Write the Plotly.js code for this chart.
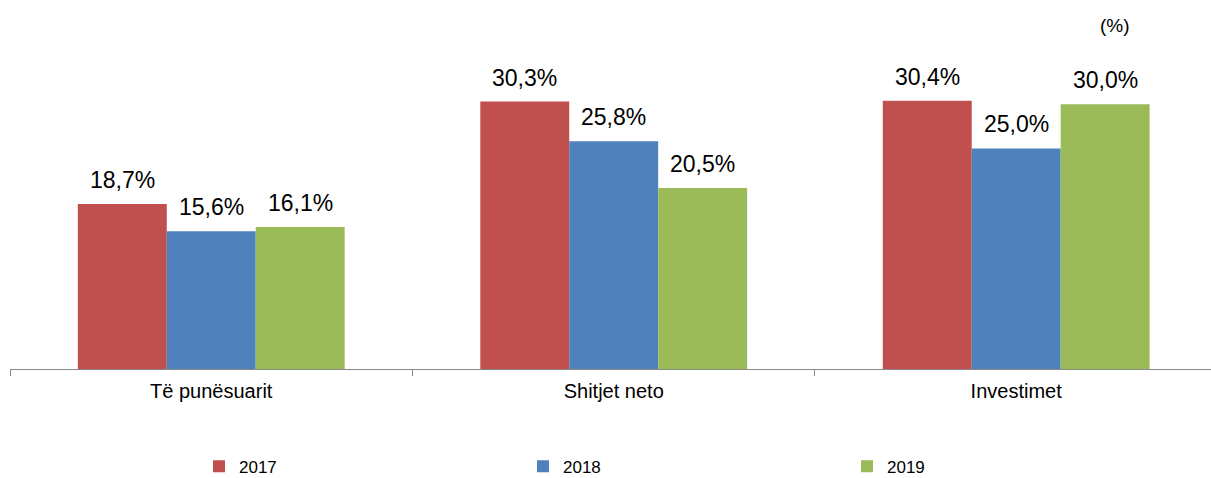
<!DOCTYPE html>
<html>
<head>
<meta charset="utf-8">
<script src="https://cdn.plot.ly/plotly-3.0.1.min.js"></script>
<style>
  html, body { margin: 0; padding: 0; background: #fff; }
  #chart { width: 1211px; height: 478px; }
</style>
</head>
<body>
<div id="chart"></div>
<script>
const categories = ["Të punësuarit", "Shitjet neto", "Investimet"];
const years = ["2017", "2018", "2019"];
const values2017 = [18.7, 30.3, 30.4];
const values2018 = [15.6, 25.8, 25.0];
const values2019 = [16.1, 20.5, 30.0];
const colors = ["#C0504D", "#4F81BD", "#9BBB59"];

const series = [values2017, values2018, values2019];
const FONT = "Liberation Sans, Arial, sans-serif";
const fmt = v => v.toFixed(1).replace(".", ",") + "%";

const bargap = 0.337;
const barW = (1 - bargap) / 3;

const traces = series.map((vals, k) => ({
  type: "bar",
  name: years[k],
  x: categories,
  y: vals,
  marker: { color: colors[k], line: { width: 0 } },
  hoverinfo: "skip"
}));

const annotations = [];
series.forEach((vals, k) => {
  vals.forEach((v, i) => {
    annotations.push({
      xref: "x", yref: "y",
      x: i + (k - 1) * barW,
      y: v,
      text: fmt(v),
      showarrow: false,
      yanchor: "middle",
      yshift: 24,
      font: { family: FONT, size: 23, color: "#000" }
    });
  });
});
annotations.push({
  xref: "paper", yref: "paper",
  x: (1115 - 10) / 1201, y: (369 - 25) / 353,
  xanchor: "center", yanchor: "middle",
  text: "(%)", showarrow: false,
  font: { family: FONT, size: 19, color: "#000" }
});

const layout = {
  width: 1211, height: 478,
  margin: { l: 10, r: 0, t: 16, b: 109, autoexpand: false },
  paper_bgcolor: "#fff", plot_bgcolor: "#fff",
  barmode: "group",
  bargap: bargap, bargroupgap: 0,
  font: { family: FONT, size: 20, color: "#000" },
  xaxis: {
    type: "category",
    range: [-0.5, 2.484],
    showline: true, linecolor: "#898989", linewidth: 1,
    ticks: "outside", tickson: "boundaries", ticklen: 6, tickcolor: "#898989",
    ticklabelstandoff: 4,
    tickfont: { family: FONT, size: 20, color: "#000" },
    showgrid: false, zeroline: false
  },
  yaxis: {
    range: [0, 40],
    showgrid: false, zeroline: false, showline: false,
    showticklabels: false, ticks: ""
  },
  showlegend: true,
  legend: {
    orientation: "h",
    x: 189 / 1201, xanchor: "left",
    y: -0.226, yanchor: "top",
    entrywidth: 279, entrywidthmode: "pixels",
    font: { family: FONT, size: 17, color: "#000" },
    bgcolor: "rgba(0,0,0,0)"
  },
  annotations: annotations
};

Plotly.newPlot("chart", traces, layout, { displayModeBar: false, staticPlot: true });
</script>
</body>
</html>
